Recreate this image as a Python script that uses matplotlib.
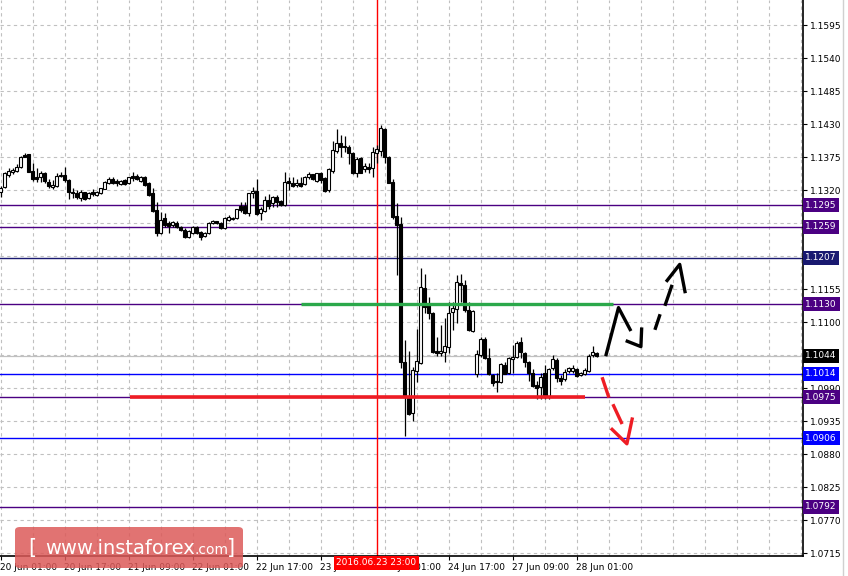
import matplotlib
matplotlib.use("Agg")
import matplotlib.pyplot as plt
import matplotlib.transforms as mtransforms
from matplotlib.patches import FancyBboxPatch
from matplotlib.lines import Line2D
import numpy as np

# EURUSD H1, bars from 20 Jun 01:00 to 28 Jun 05:00
opens = [
    1.1317, 1.1325, 1.1345, 1.1350, 1.1352, 1.1358, 1.1378, 1.1380, 1.1352, 1.1342,
    1.1342, 1.1348, 1.1333, 1.1325, 1.1327, 1.1343, 1.1345, 1.1337, 1.1317, 1.1315,
    1.1307, 1.1317, 1.1307, 1.1317, 1.1312, 1.1315, 1.1322, 1.1332, 1.1338, 1.1335,
    1.1330, 1.1337, 1.1332, 1.1343, 1.1343, 1.1335, 1.1342, 1.1332, 1.1315, 1.1287,
    1.1248, 1.1273, 1.1265, 1.1262, 1.1265, 1.1258, 1.1253, 1.1242, 1.1248, 1.1258,
    1.1250, 1.1243, 1.1248, 1.1265, 1.1268, 1.1265, 1.1257, 1.1270, 1.1272, 1.1273,
    1.1293, 1.1293, 1.1282, 1.1315, 1.1318, 1.1282, 1.1285, 1.1303, 1.1298, 1.1308,
    1.1302, 1.1295, 1.1335, 1.1332, 1.1328, 1.1332, 1.1330, 1.1342, 1.1347, 1.1335,
    1.1348, 1.1340, 1.1320, 1.1352, 1.1385, 1.1398, 1.1393, 1.1392, 1.1382, 1.1348,
    1.1373, 1.1355, 1.1358, 1.1357, 1.1382, 1.1385, 1.1422, 1.1375, 1.1333, 1.1277,
    1.1263, 1.1033, 1.0973, 1.0948, 1.1018, 1.1032, 1.1157, 1.1128, 1.1115, 1.1052,
    1.1048, 1.1050, 1.1058, 1.1117, 1.1122, 1.1165, 1.1162, 1.1120, 1.1085, 1.1013,
    1.1045, 1.1072, 1.1040, 1.1012, 1.1002, 1.1000, 1.1028, 1.1015, 1.1038, 1.1042,
    1.1067, 1.1048, 1.1033, 1.1015, 1.0995, 1.0992, 1.1015, 1.0977, 1.1023, 1.1037,
    1.1007, 1.1005, 1.1018, 1.1018, 1.1022, 1.1012, 1.1013, 1.1018, 1.1045, 1.1048,
]
highs = [
    1.1327, 1.1350, 1.1357, 1.1357, 1.1363, 1.1377, 1.1382, 1.1380, 1.1365, 1.1357,
    1.1352, 1.1350, 1.1338, 1.1337, 1.1348, 1.1350, 1.1358, 1.1338, 1.1323, 1.1320,
    1.1320, 1.1317, 1.1317, 1.1322, 1.1318, 1.1323, 1.1335, 1.1342, 1.1342, 1.1338,
    1.1337, 1.1338, 1.1342, 1.1350, 1.1347, 1.1343, 1.1343, 1.1333, 1.1323, 1.1300,
    1.1283, 1.1282, 1.1268, 1.1268, 1.1268, 1.1260, 1.1257, 1.1253, 1.1260, 1.1260,
    1.1252, 1.1250, 1.1267, 1.1270, 1.1268, 1.1267, 1.1275, 1.1278, 1.1275, 1.1288,
    1.1300, 1.1300, 1.1315, 1.1325, 1.1338, 1.1292, 1.1310, 1.1313, 1.1310, 1.1312,
    1.1303, 1.1350, 1.1342, 1.1342, 1.1338, 1.1342, 1.1343, 1.1350, 1.1347, 1.1348,
    1.1350, 1.1342, 1.1357, 1.1402, 1.1422, 1.1412, 1.1410, 1.1395, 1.1383, 1.1375,
    1.1375, 1.1365, 1.1365, 1.1392, 1.1395, 1.1428, 1.1423, 1.1377, 1.1338, 1.1298,
    1.1275, 1.1070, 1.1052, 1.1025, 1.1088, 1.1190, 1.1180, 1.1142, 1.1117, 1.1075,
    1.1095, 1.1107, 1.1133, 1.1133, 1.1178, 1.1180, 1.1170, 1.1133, 1.1120, 1.1053,
    1.1075, 1.1075, 1.1057, 1.1013, 1.1015, 1.1032, 1.1033, 1.1042, 1.1062, 1.1068,
    1.1075, 1.1050, 1.1035, 1.1022, 1.1002, 1.1015, 1.1028, 1.1023, 1.1045, 1.1040,
    1.1012, 1.1022, 1.1025, 1.1028, 1.1023, 1.1017, 1.1023, 1.1047, 1.1060, 1.1050,
]
lows = [
    1.1308, 1.1323, 1.1342, 1.1347, 1.1350, 1.1357, 1.1375, 1.1350, 1.1335, 1.1333,
    1.1333, 1.1332, 1.1323, 1.1322, 1.1325, 1.1342, 1.1333, 1.1305, 1.1307, 1.1305,
    1.1302, 1.1303, 1.1305, 1.1310, 1.1310, 1.1313, 1.1322, 1.1330, 1.1330, 1.1327,
    1.1328, 1.1328, 1.1330, 1.1335, 1.1337, 1.1333, 1.1327, 1.1310, 1.1283, 1.1243,
    1.1247, 1.1258, 1.1248, 1.1258, 1.1257, 1.1252, 1.1240, 1.1240, 1.1247, 1.1247,
    1.1237, 1.1242, 1.1247, 1.1263, 1.1263, 1.1255, 1.1255, 1.1268, 1.1270, 1.1272,
    1.1283, 1.1280, 1.1277, 1.1307, 1.1278, 1.1270, 1.1283, 1.1288, 1.1292, 1.1292,
    1.1293, 1.1293, 1.1320, 1.1325, 1.1325, 1.1325, 1.1328, 1.1338, 1.1337, 1.1333,
    1.1332, 1.1317, 1.1317, 1.1348, 1.1382, 1.1375, 1.1383, 1.1363, 1.1347, 1.1342,
    1.1348, 1.1350, 1.1348, 1.1342, 1.1365, 1.1377, 1.1365, 1.1332, 1.1272, 1.1178,
    1.1023, 1.0910, 1.0945, 1.0935, 1.1000, 1.1030, 1.1115, 1.1105, 1.1048, 1.1043,
    1.1043, 1.1033, 1.1048, 1.1087, 1.1098, 1.1133, 1.1117, 1.1085, 1.1083, 1.1008,
    1.1042, 1.1038, 1.1012, 1.0993, 1.0983, 1.0998, 1.1013, 1.1013, 1.1015, 1.1040,
    1.1040, 1.1025, 1.1002, 1.0992, 1.0972, 1.0972, 1.0972, 1.0972, 1.1020, 1.1000,
    1.0995, 1.1002, 1.1015, 1.1015, 1.1008, 1.1010, 1.1012, 1.1017, 1.1042, 1.1042,
]
closes = [
    1.1323, 1.1348, 1.1352, 1.1353, 1.1358, 1.1375, 1.1375, 1.1350, 1.1338, 1.1338,
    1.1348, 1.1335, 1.1327, 1.1328, 1.1343, 1.1345, 1.1337, 1.1317, 1.1315, 1.1308,
    1.1317, 1.1305, 1.1315, 1.1313, 1.1317, 1.1323, 1.1333, 1.1338, 1.1332, 1.1332,
    1.1335, 1.1330, 1.1342, 1.1340, 1.1338, 1.1342, 1.1328, 1.1312, 1.1285, 1.1248,
    1.1270, 1.1262, 1.1260, 1.1267, 1.1258, 1.1253, 1.1242, 1.1252, 1.1258, 1.1248,
    1.1242, 1.1248, 1.1265, 1.1268, 1.1265, 1.1257, 1.1273, 1.1275, 1.1273, 1.1288,
    1.1287, 1.1282, 1.1315, 1.1318, 1.1280, 1.1288, 1.1303, 1.1293, 1.1308, 1.1300,
    1.1295, 1.1333, 1.1332, 1.1327, 1.1332, 1.1327, 1.1342, 1.1347, 1.1338, 1.1348,
    1.1337, 1.1318, 1.1355, 1.1387, 1.1398, 1.1392, 1.1392, 1.1382, 1.1348, 1.1372,
    1.1348, 1.1360, 1.1355, 1.1383, 1.1388, 1.1423, 1.1375, 1.1332, 1.1275, 1.1262,
    1.1033, 1.0975, 1.0947, 1.1020, 1.1035, 1.1158, 1.1125, 1.1115, 1.1050, 1.1048,
    1.1052, 1.1060, 1.1115, 1.1123, 1.1167, 1.1162, 1.1120, 1.1087, 1.1118, 1.1047,
    1.1072, 1.1040, 1.1013, 1.0998, 1.1000, 1.1030, 1.1013, 1.1040, 1.1042, 1.1065,
    1.1050, 1.1033, 1.1015, 1.0993, 1.0990, 1.1008, 1.0975, 1.1022, 1.1038, 1.1007,
    1.1002, 1.1017, 1.1023, 1.1023, 1.1010, 1.1015, 1.1020, 1.1043, 1.1050, 1.1044,
]

# time axis labels (every 16 bars)
time_label_bars = [0, 16, 32, 48, 64, 80, 96, 112, 128, 144]
time_labels = ["20 Jun 01:00", "20 Jun 17:00", "21 Jun 09:00", "22 Jun 01:00",
               "22 Jun 17:00", "23 Jun 09:00", "24 Jun 01:00", "24 Jun 17:00",
               "27 Jun 09:00", "28 Jun 01:00"]
separator_bar = 94
separator_label = "2016.06.23 23:00"

# price scale (labels hidden under the level boxes are left blank)
price_ticks = [1.1595, 1.1540, 1.1485, 1.1430, 1.1375, 1.1320, 1.1265, 1.1210, 1.1155,
               1.1100, 1.1045, 1.0990, 1.0935, 1.0880, 1.0825, 1.0770, 1.0715]
hidden_ticks = [1.1265, 1.1210, 1.1045]

# horizontal levels
level_prices = [1.1295, 1.1259, 1.1207, 1.1130, 1.1014, 1.0975, 1.0906, 1.0792]
level_colors = ["#4b0082", "#4b0082", "#191970", "#4b0082", "#0000ff", "#4b0082", "#0000ff", "#4b0082"]
bid_price = 1.1044

# analyst drawings (bar index, price)
green_line = ([75, 153], [1.1130, 1.1130])
red_line = ([32.4, 146.1], [1.0975, 1.0975])
black_strokes = [
    ([151.3, 154.5, 157.6], [1.1043, 1.1124, 1.1085]),
    ([156.3, 160.1, 160.3], [1.1069, 1.1059, 1.1091]),
    ([163.6, 164.9], [1.1087, 1.1113]),
    ([166.1, 167.9], [1.1127, 1.1162]),
    ([166.4, 169.8, 171.2], [1.1167, 1.1196, 1.1148]),
]
red_strokes = [
    ([150.4, 152.1], [1.1008, 1.0974]),
    ([153.1, 155.4], [1.0963, 1.0930]),
    ([152.6, 156.6, 158.0], [1.0923, 1.0897, 1.0941]),
]

fig = plt.figure(figsize=(8.48, 5.76), dpi=100)
ax = fig.add_axes([0, 1 - 556 / 576, 803 / 848, 556 / 576])
ax.set_xlim(-0.125, 200.625)
ax.set_ylim(1.16367 - 556 / 6000, 1.16367)

o = np.array(opens)
h = np.array(highs)
l = np.array(lows)
c = np.array(closes)
idx = np.arange(len(o))
bull = c >= o

# grid
for gx in range(0, 201, 8):
    ax.axvline(gx, color="#c0c0c0", lw=0.8, ls=(0, (3, 3)), zorder=0)
for gy in price_ticks:
    ax.axhline(gy, color="#c0c0c0", lw=0.8, ls=(0, (3, 3)), zorder=0)

# levels
ax.axhline(bid_price, color="#c0c0c0", lw=0.9, zorder=1)
for p, col in zip(level_prices, level_colors):
    ax.axhline(p, color=col, lw=1.0, zorder=1)

ax.axvline(separator_bar, color="#ff0000", lw=1.0, zorder=1)

# candles
ax.vlines(idx, l, h, color="black", lw=0.9, zorder=3)
bottoms = np.minimum(o, c)
heights = np.maximum(np.abs(c - o), 0.00002)
ax.bar(idx[bull], heights[bull], 0.7, bottoms[bull], color="white",
       edgecolor="black", linewidth=0.8, zorder=4)
ax.bar(idx[~bull], heights[~bull], 0.7, bottoms[~bull], color="black",
       edgecolor="black", linewidth=0.8, zorder=4)

# drawings
ax.plot(*green_line, color="#2ba84a", lw=2.4, zorder=5, solid_capstyle="butt")
ax.plot(*red_line, color="#ee1c24", lw=2.6, zorder=5, solid_capstyle="butt")
for xs, ys in black_strokes:
    ax.plot(xs, ys, color="black", lw=2.4, zorder=5, solid_capstyle="butt")
for xs, ys in red_strokes:
    ax.plot(xs, ys, color="#ee1c24", lw=2.4, zorder=5, solid_capstyle="butt")

# axes look
for side in ["top", "left"]:
    ax.spines[side].set_visible(False)
ax.spines["right"].set_linewidth(1.2)
ax.spines["bottom"].set_linewidth(1.2)
ax.yaxis.tick_right()
ax.set_yticks(price_ticks)
ax.set_yticklabels(["" if p in hidden_ticks else f"{p:.4f}" for p in price_ticks])
ax.tick_params(axis="y", direction="out", length=3, width=0.8, labelsize=6.5, pad=2)
ax.set_xticks(time_label_bars)
ax.set_xticklabels(time_labels)
for lab in ax.get_xticklabels():
    lab.set_ha("left")
ax.tick_params(axis="x", direction="out", length=3, width=0.8, labelsize=6.5, pad=2)

# price boxes on right scale
trans_y = mtransforms.blended_transform_factory(ax.transAxes, ax.transData)
for p, col in zip(level_prices + [bid_price], level_colors + ["black"]):
    ax.text(1.003, p, f"{p:.4f}", transform=trans_y, ha="left", va="center",
            fontsize=6.5, color="white", clip_on=False, zorder=10,
            bbox=dict(boxstyle="square,pad=0.28", fc=col, ec="none"))

# separator date box
trans_x = mtransforms.blended_transform_factory(ax.transData, ax.transAxes)
ax.text(separator_bar, -0.004, separator_label, transform=trans_x, ha="center", va="top",
        fontsize=6.5, color="white", clip_on=False, zorder=10,
        bbox=dict(boxstyle="square,pad=0.3", fc="#ff0000", ec="none"))

# right panel edge
fig.add_artist(Line2D([843 / 848, 843 / 848], [0, 1], color="#d0d0d0", lw=1.0))

# watermark
fig.add_artist(FancyBboxPatch((15 / 848, 1 - 568 / 576), 228 / 848, 41 / 576,
                              boxstyle="round,pad=0,rounding_size=0.006",
                              transform=fig.transFigure, fc="#dc5a59", ec="none", alpha=0.85))
wm_font = ["Liberation Sans Narrow", "DejaVu Sans"]
fig.text(28 / 848, 1 - 548 / 576, "[", color="white", fontsize=15, va="center", family=wm_font)
fig.text(45 / 848, 1 - 548 / 576, "www.instaforex", color="white", fontsize=14, va="center", family=wm_font)
fig.text(194 / 848, 1 - 550 / 576, ".com", color="white", fontsize=10, va="center", family=wm_font)
fig.text(227 / 848, 1 - 548 / 576, "]", color="white", fontsize=15, va="center", family=wm_font)

fig.savefig("out.png", dpi=100)
